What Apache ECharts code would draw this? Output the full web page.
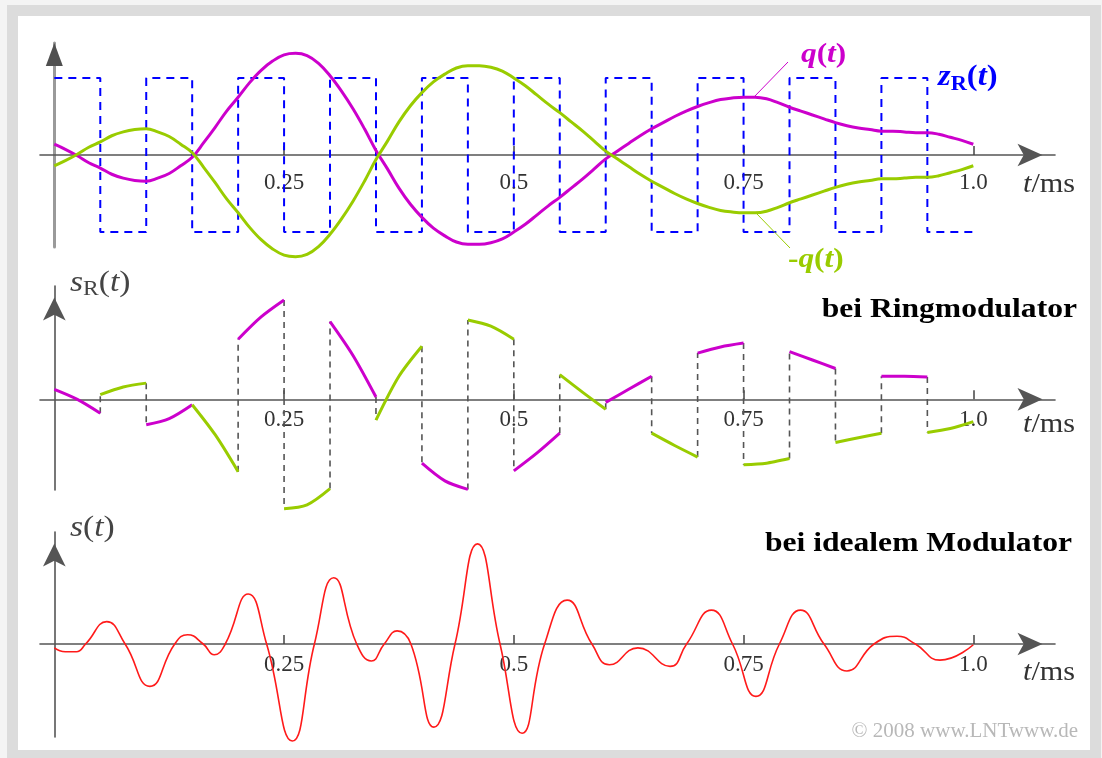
<!DOCTYPE html>
<html>
<head>
<meta charset="utf-8">
<script src="https://cdn.jsdelivr.net/npm/echarts@6/dist/echarts.min.js"></script>
<style>
  html, body { margin: 0; padding: 0; width: 1102px; height: 758px; overflow: hidden; background: #f4f4f4; }
  #frame { position: absolute; left: 7px; top: 5px; width: 1072px; height: 734px; border: 11px solid #dcdcdc; background: #fff; }
  #chart { position: absolute; left: 0; top: 0; width: 1102px; height: 758px; }
</style>
</head>
<body>
<div id="frame"></div>
<div id="chart"></div>
<script>
// ---- time axis ticks ----
const tickValues = [0.25, 0.5, 0.75, 1.0];
const tickLabels = ['0.25', '0.5', '0.75', '1.0'];

// ---- message q(t), sampled every 0.0125 ms ----
const tq = [0, 0.0125, 0.025, 0.0375, 0.05, 0.0625, 0.075, 0.0875, 0.1, 0.1125,
            0.125, 0.1375, 0.15, 0.1625, 0.175, 0.1875, 0.2, 0.2125, 0.225, 0.2375,
            0.25, 0.2625, 0.275, 0.2875, 0.3, 0.3125, 0.325, 0.3375, 0.35, 0.3625,
            0.375, 0.3875, 0.4, 0.4125, 0.425, 0.4375, 0.45, 0.4625, 0.475, 0.4875,
            0.5, 0.5125, 0.525, 0.5375, 0.55, 0.5625, 0.575, 0.5875, 0.6, 0.6125,
            0.625, 0.6375, 0.65, 0.6625, 0.675, 0.6875, 0.7, 0.7125, 0.725, 0.7375,
            0.75, 0.7625, 0.775, 0.7875, 0.8, 0.8125, 0.825, 0.8375, 0.85, 0.8625,
            0.875, 0.8875, 0.9, 0.9125, 0.925, 0.9375, 0.95, 0.9625, 0.975, 0.9875, 1.0];
const q = [0.14, 0.07, -0.01, -0.10, -0.17, -0.25, -0.30, -0.33, -0.34, -0.30,
           -0.24, -0.14, -0.03, 0.16, 0.36, 0.57, 0.75, 0.94, 1.10, 1.22,
           1.30, 1.32, 1.29, 1.19, 1.03, 0.83, 0.60, 0.34, 0.06, -0.18,
           -0.43, -0.64, -0.81, -0.95, -1.05, -1.13, -1.16, -1.16, -1.14, -1.09,
           -1.00, -0.90, -0.78, -0.66, -0.55, -0.43, -0.31, -0.18, -0.05, 0.05,
           0.15, 0.25, 0.34, 0.42, 0.50, 0.57, 0.63, 0.68, 0.72, 0.74,
           0.75, 0.75, 0.73, 0.68, 0.62, 0.57, 0.52, 0.47, 0.42, 0.38,
           0.35, 0.33, 0.31, 0.31, 0.30, 0.29, 0.29, 0.27, 0.23, 0.19, 0.14];

// ---- switching function z_R(t): one level per half period ----
const switchTimes = [0, 0.05, 0.1, 0.15, 0.2, 0.25, 0.3, 0.35, 0.4, 0.45, 0.5,
                     0.55, 0.6, 0.65, 0.7, 0.75, 0.8, 0.85, 0.9, 0.95, 1.0];
const zR = [1, -1, 1, -1, 1, -1, 1, -1, 1, -1, 1, -1, 1, -1, 1, -1, 1, -1, 1, -1];

// ---- ring modulator output s_R(t): [start, middle, end] of each half period ----
const sRing = [
  [0.13, 0.00, -0.18], [0.06, 0.16, 0.21], [-0.33, -0.25, -0.07], [-0.07, -0.46, -0.94],
  [0.78, 1.07, 1.29], [-1.42, -1.37, -1.16], [1.01, 0.57, 0.03], [-0.27, 0.30, 0.69],
  [-0.83, -1.06, -1.17], [1.03, 0.95, 0.78], [-0.93, -0.70, -0.44], [0.32, 0.09, -0.13],
  [-0.04, 0.13, 0.30], [-0.44, -0.60, -0.75], [0.60, 0.68, 0.73], [-0.85, -0.83, -0.77],
  [0.62, 0.51, 0.40], [-0.56, -0.50, -0.44], [0.30, 0.30, 0.29], [-0.43, -0.38, -0.29]
];

// ---- ideal modulator output s(t): extrema and zero crossings ----
const sTimes = [0, 0.012, 0.024, 0.034, 0.057, 0.077, 0.104, 0.131, 0.145, 0.162,
                0.174, 0.186, 0.211, 0.231, 0.259, 0.283, 0.304, 0.329, 0.345, 0.359,
                0.373, 0.388, 0.413, 0.436, 0.4605, 0.485, 0.509, 0.5335, 0.558, 0.585,
                0.604, 0.635, 0.670, 0.688, 0.715, 0.738, 0.7635, 0.789, 0.812, 0.8375,
                0.8625, 0.892, 0.917, 0.937, 0.9637, 1.0];
const sValues = [-0.05, -0.10, -0.10, 0, 0.29, 0, -0.55, 0, 0.12, 0,
                 -0.14, 0, 0.65, 0, -1.26, 0, 0.86, 0, -0.22, 0,
                 0.17, 0, -1.08, 0, 1.30, 0, -1.16, 0, 0.57, 0,
                 -0.27, -0.05, -0.29, 0, 0.44, 0, -0.68, 0, 0.44, 0,
                 -0.35, 0, 0.10, 0, -0.21, -0.01];

// ---- colours and fonts ----
const MAGENTA = '#cc00cc';
const GREEN = '#99cc00';
const BLUE = '#0000ff';
const RED = '#ff1a1a';
const AXIS = '#555555';
const SERIF = '"Liberation Serif", "Times New Roman", serif';

// ---- series data built from the arrays above ----
const zLine = [];
zR.forEach((z, k) => { zLine.push([switchTimes[k], z], [switchTimes[k + 1], z]); });

const qLine = tq.map((t, i) => [t, q[i]]);
const qNegLine = tq.map((t, i) => [t, -q[i]]);

const ringPlus = [], ringMinus = [], ringJumps = [];
sRing.forEach((seg, k) => {
  const t0 = switchTimes[k], t1 = switchTimes[k + 1], tm = (t0 + t1) / 2;
  const target = zR[k] > 0 ? ringPlus : ringMinus;
  target.push([t0, seg[0]], [tm, seg[1]], [t1, seg[2]], [t1, null]);
  if (k > 0) {
    ringJumps.push([t0, sRing[k - 1][2]], [t0, seg[0]], [t0, null]);
  }
});

const sLine = sTimes.map((t, i) => [t, sValues[i]]);

// ---- axes ----
const X_MIN = -0.0156, X_MAX = 1.0889;
const Y_RANGE = [
  [-92 / 77, 112 / 77],
  [-90.7 / 77, 113.3 / 77],
  [-93 / 77, 112 / 77]
];

function labelFor(v) {
  let best = -1, d = 1e9;
  tickValues.forEach((tv, i) => { if (Math.abs(tv - v) < d) { d = Math.abs(tv - v); best = i; } });
  return d < 1e-6 ? tickLabels[best] : '';
}

// the time axis sits on the zero line of its panel (offset from the grid's lower edge)
function xAxisFor(gridIndex, offset, margin) {
  return {
    type: 'value', gridIndex, min: X_MIN, max: X_MAX, position: 'bottom', offset,
    axisLine: { show: true, onZero: false, symbol: ['none', 'arrow'], symbolSize: [17, 25],
                symbolOffset: [0, -12.5], lineStyle: { color: AXIS, width: 1.6 } },
    axisTick: { show: true, customValues: tickValues, inside: true, length: 9,
                lineStyle: { color: '#444', width: 1.5 } },
    axisLabel: { show: true, customValues: tickValues, margin, formatter: labelFor,
                 fontFamily: SERIF, fontSize: 23, color: '#333' },
    splitLine: { show: false }
  };
}

function yAxisFor(gridIndex, color, width, withArrow) {
  return {
    type: 'value', gridIndex, min: Y_RANGE[gridIndex][0], max: Y_RANGE[gridIndex][1],
    axisLine: { show: true, onZero: true, symbol: withArrow ? ['none', 'arrow'] : 'none',
                symbolSize: [17, 23], symbolOffset: [0, -11.5], lineStyle: { color, width } },
    axisTick: { show: false }, axisLabel: { show: false }, splitLine: { show: false }
  };
}

const gridBase = { left: 40, right: 47, containLabel: false, outerBoundsMode: 'none' };

// ---- label helpers ----
function mathLabel(x, y, parts, color, weight, size, subSize) {
  const rich = {
    i: { fontFamily: SERIF, fontSize: size, fontStyle: 'italic', fontWeight: weight, fill: color, lineHeight: 34, verticalAlign: 'middle' },
    n: { fontFamily: SERIF, fontSize: size, fontWeight: weight, fill: color, lineHeight: 34, verticalAlign: 'middle' },
    sub: { fontFamily: SERIF, fontSize: subSize, fontWeight: weight, fill: color, lineHeight: 18, verticalAlign: 'bottom' }
  };
  return { type: 'text', x, y, z: 100, scaleX: 1.12,
           style: { text: parts, rich, align: 'left', verticalAlign: 'middle' } };
}

function unitLabel(y) {
  return {
    type: 'text', x: 1023, y, z: 100, scaleX: 1.12,
    style: {
      text: '{i|t}{n|/ms}', align: 'left', verticalAlign: 'middle',
      rich: {
        i: { fontFamily: SERIF, fontSize: 27, fontStyle: 'italic', fill: '#333' },
        n: { fontFamily: SERIF, fontSize: 27, fill: '#333' }
      }
    }
  };
}

const option = {
  animation: false,
  backgroundColor: 'transparent',
  grid: [
    Object.assign({ top: 43, height: 204 }, gridBase),
    Object.assign({ top: 286, height: 204 }, gridBase),
    Object.assign({ top: 532, height: 205 }, gridBase)
  ],
  xAxis: [xAxisFor(0, -92, 16), xAxisFor(1, -90.7, 9), xAxisFor(2, -93, 9.5)],
  yAxis: [
    yAxisFor(0, '#9a9a9a', 3, false),
    yAxisFor(1, AXIS, 1.6, true),
    yAxisFor(2, AXIS, 1.6, true)
  ],
  series: [
    { name: 'zR', type: 'line', xAxisIndex: 0, yAxisIndex: 0, data: zLine, showSymbol: false,
      clip: false, lineStyle: { color: BLUE, width: 2, type: [8, 6] }, z: 2 },
    { name: 'q', type: 'line', xAxisIndex: 0, yAxisIndex: 0, data: qLine, showSymbol: false, smooth: 0.4,
      clip: false, lineStyle: { color: MAGENTA, width: 3 }, z: 3 },
    { name: '-q', type: 'line', xAxisIndex: 0, yAxisIndex: 0, data: qNegLine, showSymbol: false, smooth: 0.4,
      clip: false, lineStyle: { color: GREEN, width: 3 }, z: 3 },

    { name: 'jumps', type: 'line', xAxisIndex: 1, yAxisIndex: 1, data: ringJumps, showSymbol: false,
      connectNulls: false, clip: false, lineStyle: { color: '#555', width: 1.6, type: [6, 5] }, z: 2 },
    { name: 'sR+', type: 'line', xAxisIndex: 1, yAxisIndex: 1, data: ringPlus, showSymbol: false,
      connectNulls: false, smooth: 0.3, clip: false, lineStyle: { color: MAGENTA, width: 3 }, z: 3 },
    { name: 'sR-', type: 'line', xAxisIndex: 1, yAxisIndex: 1, data: ringMinus, showSymbol: false,
      connectNulls: false, smooth: 0.3, clip: false, lineStyle: { color: GREEN, width: 3 }, z: 3 },

    { name: 's', type: 'line', xAxisIndex: 2, yAxisIndex: 2, data: sLine, showSymbol: false,
      smooth: 0.5, clip: false, lineStyle: { color: RED, width: 1.6 }, z: 3 }
  ],
  graphic: { elements: [
    // curve names in the upper panel
    mathLabel(801, 55, '{i|q}{n|(}{i|t}{n|)}', MAGENTA, 'bold', 28, 20),
    mathLabel(938, 78, '{i|z}{sub|R}{n|(}{i|t}{n|)}', BLUE, 'bold', 29, 20),
    mathLabel(788, 260, '{n|-}{i|q}{n|(}{i|t}{n|)}', GREEN, 'bold', 28, 20),
    { type: 'line', z: 100, shape: { x1: 788, y1: 62, x2: 754, y2: 97 }, style: { stroke: MAGENTA, lineWidth: 1 } },
    { type: 'line', z: 100, shape: { x1: 756, y1: 213, x2: 790, y2: 248 }, style: { stroke: GREEN, lineWidth: 1 } },
    // panel names
    mathLabel(70, 283, '{i|s}{sub|R}{n|(}{i|t}{n|)}', '#444', 'normal', 30, 21),
    mathLabel(70, 528, '{i|s}{n|(}{i|t}{n|)}', '#444', 'normal', 30, 21),
    unitLabel(185), unitLabel(425), unitLabel(673),
    { type: 'text', x: 1077, y: 310, z: 100, scaleX: 1.17,
      style: { text: 'bei Ringmodulator', font: 'bold 27px "Liberation Serif"', fill: '#000', align: 'right', verticalAlign: 'middle' } },
    { type: 'text', x: 1072, y: 544, z: 100, scaleX: 1.17,
      style: { text: 'bei idealem Modulator', font: 'bold 27px "Liberation Serif"', fill: '#000', align: 'right', verticalAlign: 'middle' } },
    { type: 'text', x: 1078, y: 731, z: 100,
      style: { text: '\u00a9 2008 www.LNTwww.de', font: '21px "Liberation Serif"', fill: '#b8b8b8', align: 'right', verticalAlign: 'middle' } },
    // dark arrow head on the light upper amplitude axis (placed after layout)
    { id: 'topArrow', type: 'polygon', z: 100, shape: { points: [[0, 0], [0, 0], [0, 0]] }, style: { fill: '#505050' } }
  ] }
};

const modChart = echarts.init(document.getElementById('chart'));
modChart.setOption(option);

const tip = modChart.convertToPixel({ gridIndex: 0 }, [0, Y_RANGE[0][1]]);
modChart.setOption({ graphic: { elements: [
  { id: 'topArrow', type: 'polygon', shape: { points: [[tip[0], tip[1]], [tip[0] - 8.5, tip[1] + 23], [tip[0] + 8.5, tip[1] + 23]] } }
] } });
</script>
</body>
</html>
